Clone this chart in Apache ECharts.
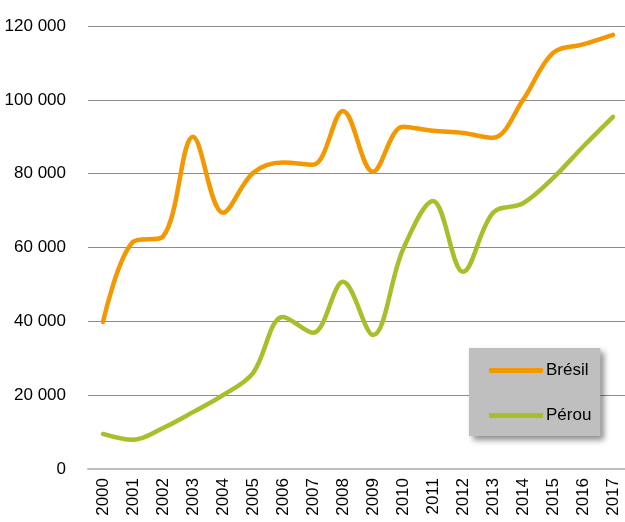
<!DOCTYPE html>
<html>
<head>
<meta charset="utf-8">
<script src="https://cdn.jsdelivr.net/npm/echarts@6/dist/echarts.min.js"></script>
<style>
  html, body { margin: 0; padding: 0; background: #fff; }
  #chart { width: 625px; height: 522px; }
</style>
</head>
<body>
<div id="chart"></div>
<script>
var years = ['2000', '2001', '2002', '2003', '2004', '2005', '2006', '2007', '2008',
  '2009', '2010', '2011', '2012', '2013', '2014', '2015', '2016', '2017']
var bresil = [39800, 61500, 63000, 90000, 69400, 80200, 83000, 82400, 97000,
  80500, 92700, 91600, 91000, 89700, 100000, 112700, 115000, 117600]
var perou = [9500, 7900, 11100, 15400, 20000, 26000, 41200, 36900, 50700,
  36300, 59500, 72600, 53400, 69400, 72000, 78800, 87300, 95400]
var yTicks = [0, 20000, 40000, 60000, 80000, 100000, 120000]

var font = '"Liberation Sans", Arial, sans-serif'
var chart = echarts.init(document.getElementById('chart'))
var option = {
  animation: false,
  textStyle: { fontFamily: font },
  grid: { left: 88, top: 26, width: 540, bottom: 53, containLabel: false, outerBoundsMode: 'none' },
  legend: {
    orient: 'vertical',
    left: 469,
    top: 348,
    padding: [14, 9, 12, 20],
    itemGap: 28,
    itemWidth: 54,
    itemHeight: 5,
    icon: 'roundRect',
    backgroundColor: '#bfbfbf',
    shadowColor: 'rgba(0,0,0,0.45)',
    shadowBlur: 6,
    shadowOffsetX: 4,
    shadowOffsetY: 4,
    textStyle: { fontFamily: font, fontSize: 17, color: '#000', padding: [0, 0, 0, -2] },
    data: ['Brésil', 'Pérou']
  },
  xAxis: {
    type: 'category',
    data: years,
    boundaryGap: true,
    axisLine: { lineStyle: { color: '#bdbdbd', width: 2 } },
    axisTick: { show: false },
    axisLabel: { rotate: 90, margin: 9, fontSize: 17, color: '#000', interval: 0 }
  },
  yAxis: {
    type: 'value',
    min: yTicks[0],
    max: yTicks[yTicks.length - 1],
    interval: 20000,
    axisLine: { show: false },
    axisTick: { show: false },
    splitLine: { lineStyle: { color: '#8c8c8c', width: 1 } },
    axisLabel: {
      margin: 22,
      fontSize: 17,
      color: '#000',
      formatter: function (v) {
        // espace comme séparateur des milliers
        return String(v).replace(/\B(?=(\d{3})+(?!\d))/g, ' ')
      }
    }
  },
  series: [
    {
      name: 'Brésil',
      type: 'line',
      smooth: 0.35,
      symbol: 'none',
      data: bresil,
      lineStyle: { color: '#f39800', width: 4.5, cap: 'round' },
      itemStyle: { color: '#f39800' }
    },
    {
      name: 'Pérou',
      type: 'line',
      smooth: 0.35,
      symbol: 'none',
      data: perou,
      lineStyle: { color: '#a8bf2c', width: 4.5, cap: 'round' },
      itemStyle: { color: '#a8bf2c' }
    }
  ]
}
chart.setOption(option)
</script>
</body>
</html>
